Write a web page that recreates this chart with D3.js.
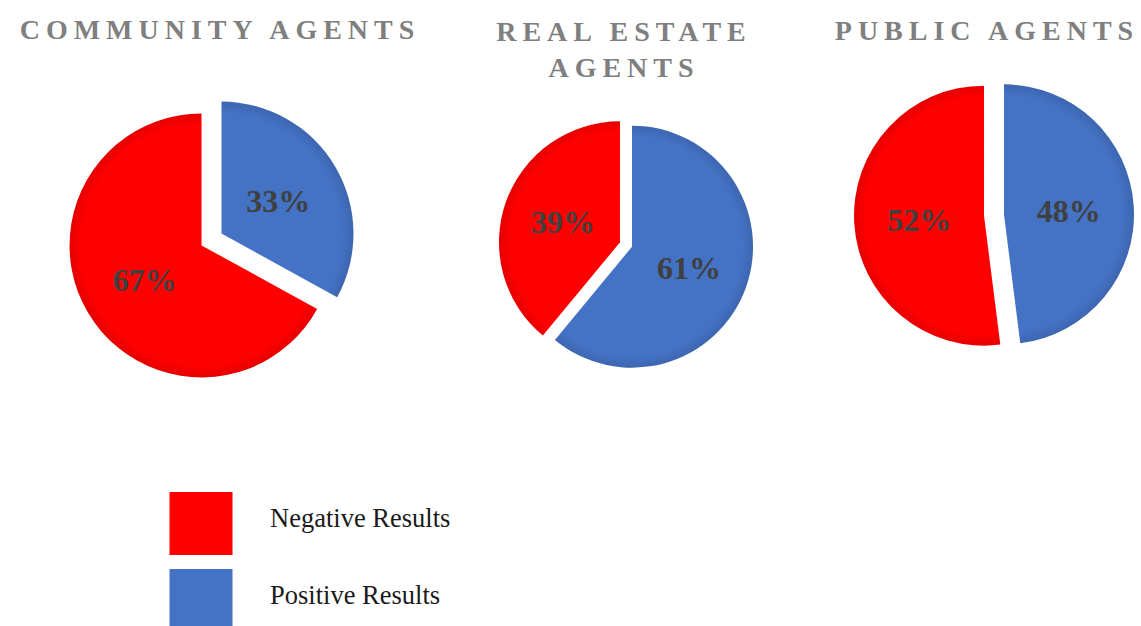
<!DOCTYPE html>
<html>
<head>
<meta charset="utf-8">
<script src="https://cdn.jsdelivr.net/npm/d3@7"></script>
<style>
  body { margin: 0; background: #fff; }
</style>
</head>
<body>
<div id="chart"></div>
<script>
const groups = ["COMMUNITY AGENTS", "REAL ESTATE AGENTS", "PUBLIC AGENTS"];
const negative = [67, 39, 52];
const positive = [33, 61, 48];
const seriesNames = ["Negative Results", "Positive Results"];
const colors = { "Negative Results": "#ff0000", "Positive Results": "#4472c4" };

// layout for each pie (centre, radius, explosion distance, title lines)
const layout = [
  { cx: 211.5, cy: 239.5, r: 132, explode: 11.6, title: ["COMMUNITY AGENTS"], tx: 220, ty: 38.5 },
  { cx: 626, cy: 244.5, r: 121, explode: 6.4, title: ["REAL ESTATE", "AGENTS"], tx: 624, ty: 40.5 },
  { cx: 994, cy: 215, r: 130, explode: 10, title: ["PUBLIC AGENTS"], tx: 987, ty: 39.5 },
];

const width = 1141;
const height = 626;

const svg = d3
  .select("#chart")
  .append("svg")
  .attr("width", width)
  .attr("height", height)
  .style("background", "#fff");

const defs = svg.append("defs");

const pie = d3
  .pie()
  .sort(null)
  .value((d) => d.value);

groups.forEach((g, i) => {
  const L = layout[i];
  const slices = [
    { name: "Positive Results", value: positive[i] },
    { name: "Negative Results", value: negative[i] },
  ];
  const arcs = pie(slices);
  const arc = d3.arc().innerRadius(0).outerRadius(L.r);

  // soft edge gradients, one per colour per pie
  seriesNames.forEach((s, k) => {
    const grad = defs
      .append("radialGradient")
      .attr("id", `grad-${i}-${k}`)
      .attr("gradientUnits", "userSpaceOnUse")
      .attr("cx", 0)
      .attr("cy", 0)
      .attr("r", L.r);
    const c = d3.color(colors[s]);
    grad.append("stop").attr("offset", "91%").attr("stop-color", c.formatHex());
    grad.append("stop").attr("offset", "100%").attr("stop-color", c.darker(0.3).formatHex());
  });

  const pieG = svg.append("g").attr("transform", `translate(${L.cx},${L.cy})`);

  const sliceG = pieG
    .selectAll("g.slice")
    .data(arcs)
    .enter()
    .append("g")
    .attr("class", "slice")
    .attr("transform", (d) => {
      const a = (d.startAngle + d.endAngle) / 2;
      return `translate(${L.explode * Math.sin(a)},${-L.explode * Math.cos(a)})`;
    });

  sliceG
    .append("path")
    .attr("d", arc)
    .attr("fill", (d) => `url(#grad-${i}-${seriesNames.indexOf(d.data.name)})`);

  sliceG
    .append("text")
    .attr("x", (d) => arc.centroid(d)[0])
    .attr("y", (d) => arc.centroid(d)[1])
    .attr("dy", "0.36em")
    .attr("text-anchor", "middle")
    .style("font-family", "'Liberation Serif', 'Times New Roman', serif")
    .style("font-weight", "bold")
    .style("font-size", "32px")
    .style("fill", "#404040")
    .text((d) => d.data.value + "%");

  // title
  const title = svg
    .append("text")
    .attr("x", L.tx)
    .attr("y", L.ty)
    .attr("text-anchor", "middle")
    .style("font-family", "'Liberation Serif', 'Times New Roman', serif")
    .style("font-weight", "bold")
    .style("font-size", "28px")
    .style("letter-spacing", "6px")
    .style("fill", "#7f7f7f");
  L.title.forEach((line, j) => {
    title
      .append("tspan")
      .attr("x", L.tx)
      .attr("dy", j === 0 ? 0 : 36)
      .text(line);
  });
});

// legend
const legend = svg
  .selectAll("g.legend")
  .data(seriesNames)
  .enter()
  .append("g")
  .attr("class", "legend")
  .attr("transform", (d, i) => `translate(169.5,${492 + i * 77})`);

legend
  .append("rect")
  .attr("width", 63)
  .attr("height", 63)
  .attr("fill", (d) => colors[d]);

legend
  .append("text")
  .attr("x", 100.5)
  .attr("y", 35)
  .style("font-family", "'Liberation Serif', 'Times New Roman', serif")
  .style("font-size", "26.5px")
  .style("fill", "#1a1a1a")
  .text((d) => d);
</script>
</body>
</html>
